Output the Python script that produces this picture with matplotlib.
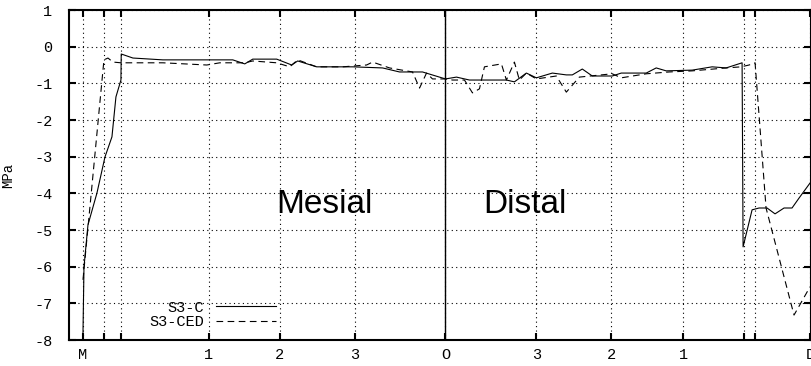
"""
Stress profile along the tooth surface, S3-C vs S3-CED (gnuplot-style chart).
"""
import matplotlib

matplotlib.use("Agg")
import matplotlib.pyplot as plt

# positions along the surface (arbitrary units, O = 0)
c_x = [-36.3, -36.2, -35.8, -34.9, -34.1, -33.4, -33.0, -32.5, -32.47, -31.3,
       -28.3, -21.3, -20.1, -19.3, -16.9, -15.4, -14.8, -12.9, -9.3, -6.3,
       -4.6, -2.3, 0.0, 1.1, 2.4, 6.1, 6.9, 8.1, 9.1, 10.7,
       12.1, 12.7, 13.7, 14.7, 16.7, 17.6, 20.1, 21.1, 22.1, 24.7,
       26.7, 28.1, 29.7, 29.8, 30.7, 31.4, 32.2, 33.0, 33.9, 34.7,
       35.4, 36.5]
c_y = [-7.81, -6.01, -4.86, -3.99, -3.01, -2.46, -1.37, -0.91, -0.20, -0.31,
       -0.36, -0.36, -0.47, -0.34, -0.34, -0.50, -0.39, -0.55, -0.55, -0.58,
       -0.69, -0.69, -0.88, -0.83, -0.91, -0.91, -0.96, -0.72, -0.85, -0.72,
       -0.77, -0.77, -0.61, -0.80, -0.80, -0.72, -0.72, -0.58, -0.66, -0.64,
       -0.55, -0.58, -0.44, -5.46, -4.45, -4.40, -4.40, -4.56, -4.40, -4.40,
       -4.13, -3.72]

ced_x = [-36.3, -34.2, -33.8, -33.3, -32.5, -28.3, -23.9, -22.6, -20.1, -19.3,
         -16.9, -15.6, -14.8, -12.9, -10.3, -7.9, -7.3, -5.6, -3.3, -2.6,
         -1.9, -1.3, 0.0, 0.7, 1.9, 2.7, 3.4, 3.9, 5.6, 6.1,
         6.9, 7.4, 8.1, 9.1, 11.1, 12.1, 13.4, 16.7, 17.6, 20.1,
         22.4, 24.7, 28.1, 29.6, 30.4, 31.0, 32.1, 34.9, 36.5]
ced_y = [-6.36, -0.36, -0.31, -0.42, -0.44, -0.44, -0.50, -0.44, -0.44, -0.39,
         -0.44, -0.55, -0.36, -0.55, -0.55, -0.50, -0.42, -0.58, -0.69, -1.13,
         -0.72, -0.88, -0.88, -0.91, -0.91, -1.26, -1.15, -0.55, -0.47, -0.91,
         -0.42, -0.91, -0.72, -0.88, -0.80, -1.24, -0.83, -0.74, -0.85, -0.74,
         -0.69, -0.66, -0.58, -0.55, -0.50, -0.44, -4.40, -7.32, -6.55]

tick_pos = [-36.3, -34.2, -32.5, -23.7, -16.6, -9.1, 0.0, 9.1, 16.6, 23.8,
            29.9, 31.0, 36.5]
tick_labels = ["M", "", "", "1", "2", "3", "O", "3", "2", "1", "", "", "D"]
y_ticks = [1, 0, -1, -2, -3, -4, -5, -6, -7, -8]

mono = "Liberation Mono"

fig = plt.figure(figsize=(8.12, 3.66), dpi=100)
ax = fig.add_axes([69 / 812, 26 / 366, 742 / 812, 330 / 366])

ax.plot(c_x, c_y, color="black", lw=0.8, label="S3-C")
ax.plot(ced_x, ced_y, color="black", lw=0.8, linestyle=(0, (6, 4)), label="S3-CED")
ax.axvline(0.0, color="black", lw=1.0)

ax.set_xlim(-37.7, 36.6)
ax.set_ylim(-8, 1)
ax.set_xticks(tick_pos)
ax.set_xticklabels(tick_labels, fontfamily=mono, fontsize=11)
ax.set_yticks(y_ticks)
ax.set_yticklabels([str(v) for v in y_ticks], fontfamily=mono, fontsize=11)
ax.tick_params(direction="in", length=5, width=1.5, top=True, right=True)
ax.tick_params(axis="y", pad=12)
ax.tick_params(axis="x", pad=6)
ax.grid(True, color="black", lw=0.8, linestyle=(0, (1, 3)))
for s in ax.spines.values():
    s.set_linewidth(1.5)

ax.set_ylabel("MPa", fontfamily=mono, fontsize=10)
ax.yaxis.set_label_coords(-0.072, 0.5)

ax.text(-12.1, -4.54, "Mesial", fontfamily="Liberation Sans", fontsize=24,
        ha="center", va="baseline")
ax.text(8.0, -4.54, "Distal", fontfamily="Liberation Sans", fontsize=24,
        ha="center", va="baseline")

ax.legend(loc="lower right", bbox_to_anchor=(0.293, 0.0), frameon=False,
          markerfirst=False, handlelength=3.9, handletextpad=0.8,
          labelspacing=0.05, borderpad=0.2, prop={"family": mono, "size": 11})

fig.savefig("out.png", dpi=100)
